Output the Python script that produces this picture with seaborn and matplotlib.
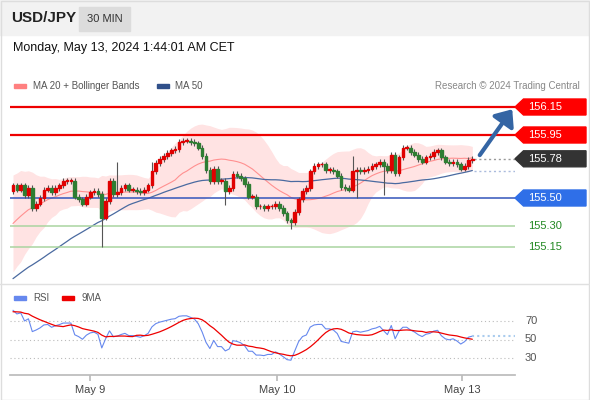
import numpy as np
import pandas as pd
import matplotlib
matplotlib.use("Agg")
import matplotlib.pyplot as plt
from matplotlib.patches import Rectangle, Polygon, FancyArrowPatch
import seaborn as sns

sns.set_theme(style="white")
plt.rcParams['font.family'] = ['Liberation Sans', 'DejaVu Sans']

title = "USD/JPY"
timeframe = "30 MIN"
date_text = "Monday, May 13, 2024 1:44:01 AM CET"
history = [154.52,154.55,154.50,154.58,154.61,154.57,154.60,154.63,154.59,154.62,
           154.66,154.63,154.65,154.68,154.64,154.67,154.70,154.66,154.69,154.72,
           154.68,154.71,154.74,154.70,154.73,154.76,154.72,154.75,154.78,154.80,
           155.02,155.08,155.05,155.12,155.18,155.15,155.22,155.28,155.25,155.32,
           155.38,155.35,155.42,155.46,155.43,155.50,155.48,155.53,155.55]
closes = [155.59,155.56,155.59,155.52,155.57,155.43,155.46,155.50,155.56,155.57,
          155.54,155.57,155.59,155.62,155.62,155.62,155.51,155.49,155.46,155.51,
          155.54,155.55,155.53,155.36,155.48,155.62,155.53,155.54,155.57,155.59,
          155.56,155.56,155.55,155.54,155.56,155.59,155.69,155.75,155.78,155.80,
          155.82,155.84,155.85,155.90,155.91,155.91,155.90,155.89,155.86,155.80,
          155.70,155.62,155.71,155.62,155.62,155.55,155.57,155.67,155.66,155.64,
          155.60,155.51,155.51,155.44,155.44,155.43,155.44,155.44,155.46,155.43,
          155.39,155.34,155.33,155.40,155.49,155.55,155.57,155.69,155.73,155.74,
          155.74,155.70,155.70,155.69,155.66,155.58,155.57,155.56,155.69,155.70,
          155.69,155.70,155.71,155.73,155.74,155.76,155.73,155.70,155.81,155.68,
          155.79,155.86,155.86,155.83,155.81,155.78,155.76,155.79,155.80,155.83,
          155.84,155.79,155.76,155.75,155.76,155.74,155.71,155.73,155.77,155.78]
long_lows = {23: 155.15, 55: 155.45, 72: 155.28, 89: 155.50, 96: 155.52}
long_highs = {27: 155.76, 36: 155.76, 88: 155.80}
res_levels = [156.15, 155.95]
pivot_level = 155.78
sup_levels = [155.50]
green_levels = [155.30, 155.15]
date_labels = ["May 9", "May 10", "May 13"]
date_pos = [20, 68.4, 116.3]
rsi_ticks = [70, 50, 30]

W, H = 590, 400
fig = plt.figure(figsize=(W/100, H/100), dpi=100)
fig.patch.set_facecolor("white")

def fx(px): return px / W
def fy(py): return 1 - py / H

# header
fig.patches.append(Rectangle((0, fy(35)), 1, 35/H, transform=fig.transFigure, color="#f2f2f2", zorder=0))
fig.patches.append(Rectangle((fx(79), fy(31)), 51/W, 24/H, transform=fig.transFigure, color="#dcdcdc", zorder=1))
fig.text(fx(11), fy(18), title, fontsize=11, fontweight="bold", color="#222", va="center")
fig.text(fx(104.5), fy(19), timeframe, fontsize=8, color="#333", va="center", ha="center")
fig.text(fx(13), fy(48), date_text, fontsize=9, color="#111", va="center")
# legends
fig.patches.append(Rectangle((fx(14), fy(88)), 12/W, 4/H, transform=fig.transFigure, color="#ff8080"))
fig.text(fx(33), fy(86), "MA 20 + Bollinger Bands", fontsize=7, color="#555", va="center")
fig.patches.append(Rectangle((fx(157), fy(88)), 12/W, 4/H, transform=fig.transFigure, color="#30508a"))
fig.text(fx(175), fy(86), "MA 50", fontsize=7, color="#555", va="center")
fig.text(fx(580), fy(86), "Research © 2024 Trading Central", fontsize=7, color="#888", va="center", ha="right")
fig.patches.append(Rectangle((fx(14), fy(300)), 12/W, 4/H, transform=fig.transFigure, color="#6688ee"))
fig.text(fx(33), fy(298), "RSI", fontsize=7, color="#555", va="center")
fig.patches.append(Rectangle((fx(62), fy(300)), 12/W, 4/H, transform=fig.transFigure, color="#ee0000"))
fig.text(fx(81), fy(298), "9MA", fontsize=7, color="#555", va="center")
# frame & separator
fig.add_artist(plt.Line2D([0, 1], [fy(284), fy(284)], transform=fig.transFigure, color="#e0e0e0", lw=1))
fig.patches.append(Rectangle((0.001, 0.001), 0.997, 0.997, transform=fig.transFigure, fill=False, ec="#dddddd", lw=1))

# data
allc = pd.Series(history + closes)
n_h = len(history)
ma20 = allc.rolling(20, min_periods=1).mean().values[n_h:]
sd20 = allc.rolling(20, min_periods=2).std(ddof=0).values[n_h:]
ma50 = allc.rolling(50, min_periods=1).mean().values[n_h:]
opens = [history[-1]] + closes[:-1]
idx = np.arange(len(closes))

x0px, x1px = 10, 515
sp = 3.86
xl = (x0px - 13) / sp
xr = (x1px - 13) / sp

ax = fig.add_axes([fx(x0px), fy(282), (x1px - x0px)/W, (282-95)/H])
ylo = 156.15 - (282-107)/140
yhi = 156.15 + (107-95)/140
ax.set_xlim(xl, xr); ax.set_ylim(ylo, yhi)
ax.axis("off")

ax.fill_between(idx, ma20 - 2*sd20, ma20 + 2*sd20, color="#ffdede", alpha=0.85, lw=0, zorder=1)
df = pd.DataFrame({"i": idx, "ma20": ma20, "ma50": ma50})
sns.lineplot(data=df, x="i", y="ma20", ax=ax, color="#ff9090", lw=0.8, zorder=2)
sns.lineplot(data=df, x="i", y="ma50", ax=ax, color="#4a6aa0", lw=0.9, zorder=2)
ax.set_xlim(xl, xr); ax.set_ylim(ylo, yhi); ax.axis("off")

for lv in res_levels:
    ax.axhline(lv, color="#ee0000", lw=1.6, zorder=3)
for lv in sup_levels:
    ax.axhline(lv, color="#3355bb", lw=1.1, zorder=3)
for lv in green_levels:
    ax.axhline(lv, color="#a9d4a0", lw=1.1, zorder=3)

for i, (o, c) in enumerate(zip(opens, closes)):
    hi = long_highs.get(i, max(o, c) + 0.02)
    lo = long_lows.get(i, min(o, c) - 0.02)
    ax.vlines(i, lo, hi, color="#555555", lw=0.8, zorder=4)
    col = "#e00000" if c >= o else "#2e7d32"
    ax.add_patch(Rectangle((i - 0.35, min(o, c)), 0.7, max(abs(c - o), 0.006), color=col, zorder=5))

last = len(closes) - 1
ax.plot([last + 0.5, xr], [closes[-1]]*2, ls=(0, (1.5, 2)), color="#999", lw=1, zorder=3)
ax.plot([last + 0.5, xr], [ma50[-1]]*2, ls=(0, (1.5, 2)), color="#aabbdd", lw=1, zorder=3)
ax.add_patch(FancyArrowPatch((last + 1.5, pivot_level + 0.01), (xr - 0.3, res_levels[0]),
             arrowstyle="-|>,head_length=6,head_width=5", mutation_scale=1.5, color="#3465a4", lw=3, zorder=6))

def tag(level, fc, tc, boxed=True):
    h = 8/140
    xs = xr; xe = (586 - 13)/sp; sh = xs + 2.2
    if boxed:
        ax.add_patch(Polygon([[xs, level], [sh, level + h], [xe, level + h], [xe, level - h], [sh, level - h]],
                             closed=True, color=fc, clip_on=False, zorder=6))
    ax.text(sh + 1.2, level, f"{level:.2f}", color=tc, fontsize=8, va="center", ha="left", clip_on=False, zorder=7)

for lv in res_levels:
    tag(lv, "#ff0000", "white")
tag(pivot_level, "#333333", "white")
for lv in sup_levels:
    tag(lv, "#2f6fe8", "white")
for lv in green_levels:
    tag(lv, None, "#228822", boxed=False)

# RSI
d = allc.diff()
up = d.clip(lower=0).ewm(alpha=1/14, adjust=False).mean()
dn = (-d.clip(upper=0)).ewm(alpha=1/14, adjust=False).mean()
rsi = (100 - 100/(1 + up/dn))
rsi9 = rsi.rolling(9).mean()
rdf = pd.DataFrame({"i": idx, "rsi": rsi.values[n_h:], "ma": rsi9.values[n_h:]})

ax2 = fig.add_axes([fx(x0px), fy(375), (x1px - x0px)/W, (375-290)/H])
r_lo = 30 - 17/0.925; r_hi = 70 + 31/0.925
for t in rsi_ticks:
    ax2.axhline(t, color="#bbbbbb", ls=(0, (1, 2.5)), lw=0.8)
sns.lineplot(data=rdf, x="i", y="rsi", ax=ax2, color="#6688ee", lw=0.8)
sns.lineplot(data=rdf, x="i", y="ma", ax=ax2, color="#ee0000", lw=0.9)
ax2.plot([last, xr], [rdf["rsi"].iloc[-1]]*2, ls=(0, (1, 1.5)), color="#aaccee", lw=1.5)
ax2.set_xlim(xl, xr); ax2.set_ylim(r_lo, r_hi)
ax2.set_xlabel(""); ax2.set_ylabel("")
for s in ["top", "left", "right"]:
    ax2.spines[s].set_visible(False)
ax2.spines["bottom"].set_color("#bbbbbb")
ax2.set_yticks([])
ax2.set_xticks(date_pos)
ax2.set_xticklabels(date_labels, fontsize=8, color="#444")
ax2.tick_params(axis="x", length=4, color="#bbbbbb", bottom=True, pad=3)
for t in rsi_ticks:
    ax2.text(xr + 2.6, t, str(t), fontsize=8, color="#555", va="center", clip_on=False)
ax2.set_facecolor("none")

fig.savefig("out.png", dpi=100)
